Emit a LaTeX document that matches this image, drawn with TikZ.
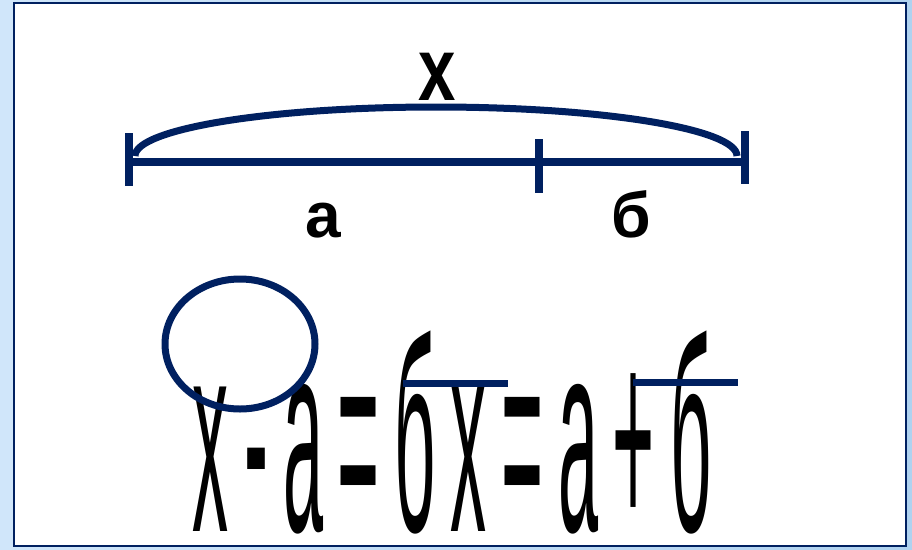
\documentclass[tikz,border=0pt]{standalone}
\usepackage{fontspec}
\setmainfont{Liberation Sans}
\usepackage{graphicx}
\definecolor{navy}{RGB}{0,32,96}
\definecolor{bgleft}{RGB}{208,230,250}
\definecolor{bgright}{RGB}{175,210,240}
\newcommand{\tallglyph}[1]{\scalebox{1}[3.8]{#1}}
\begin{document}
\begin{tikzpicture}[x=1pt,y=-1pt,
  navyline/.style={draw=navy, line width=8pt},
  navythin/.style={draw=navy, line width=7pt},
  eqglyph/.style={anchor=base, inner sep=0pt, font=\fontsize{72}{72}\selectfont},
  lbl/.style={anchor=base, inner sep=0pt, font=\fontsize{64}{64}\selectfont\bfseries},
]
\useasboundingbox (0,0) rectangle (912,549);
\shade[left color=bgleft, right color=bgright] (0,0) rectangle (912,549);
\draw[fill=white, draw=navy, line width=2.5pt] (14,3) rectangle (906,546);

% segment
\coordinate (L) at (129,162);
\coordinate (M) at (539,162);
\coordinate (R) at (745,162);
\coordinate (Lt) at (129,133); \coordinate (Lb) at (129,186);
\coordinate (Mt) at (539,139); \coordinate (Mb) at (539,193);
\coordinate (Rt) at (745,131); \coordinate (Rb) at (745,184);
\draw[navyline] (L) -- (R);
\draw[navyline] (Lt) -- (Lb);
\draw[navyline] (Mt) -- (Mb);
\draw[navyline] (Rt) -- (Rb);
\coordinate (A0) at (135,156);
\draw[navythin] (A0) arc[start angle=180, end angle=0, x radius=301pt, y radius=49pt];

% labels
\node[lbl] (lx) at (437,100) {\scalebox{1.05}[1.4]{x}};
\node[lbl] (la) at (323,237) {а};
\node[lbl] (lb) at (631,237) {б};

% equation
\node[eqglyph] (g1) at (210.5,531) {\tallglyph{x}};
\node[eqglyph] (g2) at (256.5,531) {\tallglyph{-}};
\node[eqglyph] (g3) at (303.5,531) {\tallglyph{а}};
\node[eqglyph] (g4) at (359,531) {\tallglyph{=}};
\node[eqglyph] (g5) at (415.5,531) {\tallglyph{б}};
\node[eqglyph] (g6) at (468.5,531) {\tallglyph{x}};
\node[eqglyph] (g7) at (523,531) {\tallglyph{=}};
\node[eqglyph] (g8) at (578.5,531) {\tallglyph{а}};
\node[eqglyph] (g9) at (634,531) {\tallglyph{+}};
\node[eqglyph] (g10) at (691.5,531) {\tallglyph{б}};

% marks
\coordinate (C) at (240,344);
\draw[navythin] (C) ellipse [x radius=75pt, y radius=65pt];
\coordinate (O1a) at (403,383); \coordinate (O1b) at (508,383);
\coordinate (O2a) at (633,382.5); \coordinate (O2b) at (738,382.5);
\draw[navythin] (O1a) -- (O1b);
\draw[navythin] (O2a) -- (O2b);
\end{tikzpicture}
\end{document}
